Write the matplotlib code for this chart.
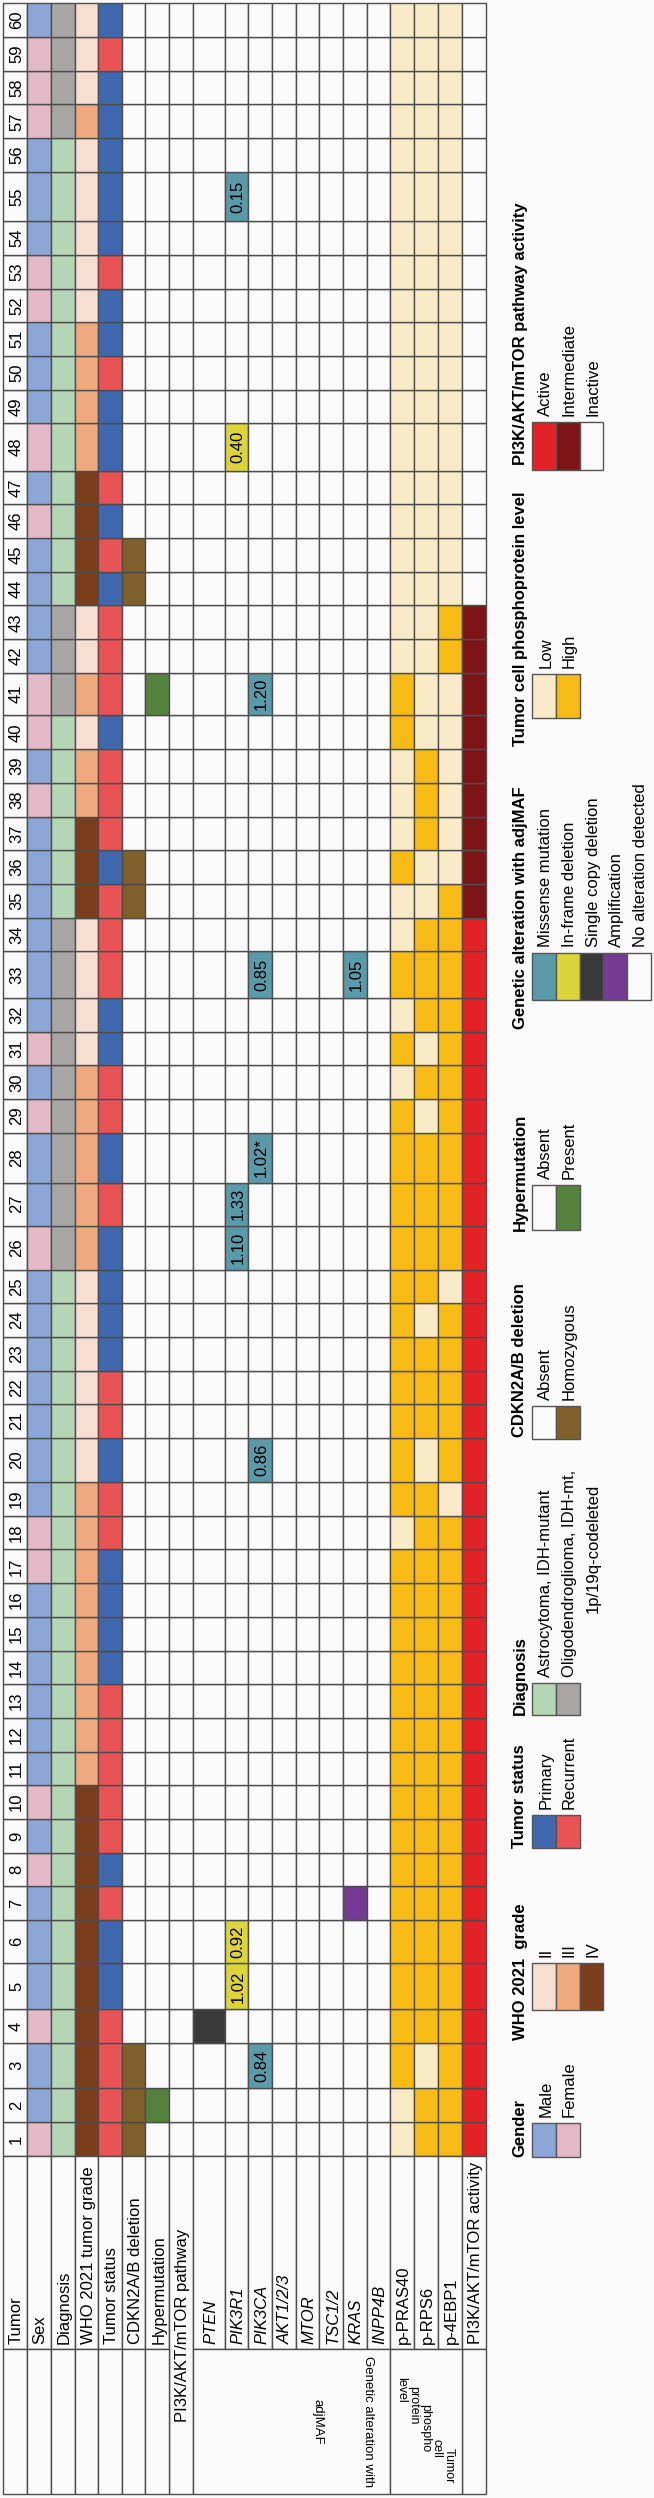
import numpy as np
import matplotlib.pyplot as plt
from matplotlib.patches import Rectangle

plt.rcParams['font.family'] = ['Liberation Sans', 'DejaVu Sans']

# ---- data (tumor 1..60) ----
tumors = np.arange(1, 61)
sex = list("FMMFMMMFMF" "MMMMMMFFMM" "MMMMMFMMFM" "FMMMMMMFMF" "FMMMMFMFMM" "MFFMMMFFFM")
diagnosis = list("A" * 25 + "O" * 9 + "A" * 6 + "O" * 3 + "A" * 13 + "O" * 4)
grade = ([4] * 10 + [3] * 9 + [2] * 6 + [3] * 5 + [2] * 4 + [4] * 3 + [3] * 2 + [2] + [3]
         + [2] * 2 + [4] * 4 + [3] * 4 + [2] * 5 + [3] + [2] * 3)
status = list("RRRRPPRPRR" "RRRPPPPRRP" "RRPPPPRPRR" "PPRRRPRRRP" "RRRPRPRPPR" "PPRPPPPPRP")
cdkn2a_homozygous = [1, 2, 3, 35, 36, 44, 45]
hypermutated = [2, 41]
# (tumor, gene, alteration type, adjMAF label)
alterations = [
    (4, "PTEN", "del", ""),
    (5, "PIK3R1", "inframe", "1.02"),
    (6, "PIK3R1", "inframe", "0.92"),
    (26, "PIK3R1", "missense", "1.10"),
    (27, "PIK3R1", "missense", "1.33"),
    (48, "PIK3R1", "inframe", "0.40"),
    (55, "PIK3R1", "missense", "0.15"),
    (3, "PIK3CA", "missense", "0.84"),
    (20, "PIK3CA", "missense", "0.86"),
    (28, "PIK3CA", "missense", "1.02*"),
    (33, "PIK3CA", "missense", "0.85"),
    (41, "PIK3CA", "missense", "1.20"),
    (7, "KRAS", "amp", ""),
    (33, "KRAS", "missense", "1.05"),
]
p_pras40 = list("LLHHHHHHHH" "HHHHHHHLHH" "HHHHHHHHHL" "HLHLLHLLLH" "HLLLLLLLLL" "LLLLLLLLLL")
p_rps6 = list("HHLHHHHHHH" "HHHHHHHHHL" "HHHLHHHHLH" "LHHHLLHHHL" "LLLLLLLLLL" "LLLLLLLLLL")
p_4ebp1 = list("HHHHHHHHHH" "HHHHHHHHLH" "HHHHLHHHHH" "HHHHHLLLLL" "LHHLLLLLLL" "LLLLLLLLLL")
activity = ["A"] * 34 + ["I"] * 9 + ["N"] * 17

row_labels = ["Tumor", "Sex", "Diagnosis", "WHO 2021 tumor grade", "Tumor status",
              "CDKN2A/B deletion", "Hypermutation", "PI3K/AKT/mTOR pathway", "PTEN", "PIK3R1",
              "PIK3CA", "AKT1/2/3", "MTOR", "TSC1/2", "KRAS", "INPP4B", "p-PRAS40", "p-RPS6",
              "p-4EBP1", "PI3K/AKT/mTOR activity"]
genes = ["PTEN", "PIK3R1", "PIK3CA", "AKT1/2/3", "MTOR", "TSC1/2", "KRAS", "INPP4B"]

# ---- colours ----
bg = "#fafafa"
grid = "#4d4d4d"
c_sex = {"M": "#8ca7d7", "F": "#e4b9c7"}
c_diag = {"A": "#b5d6b5", "O": "#a8a5a5"}
c_grade = {2: "#f6ded1", 3: "#eea97e", 4: "#7a3e1d"}
c_status = {"P": "#3f68ae", "R": "#e95356"}
c_cdkn = "#7f5f2a"
c_hyper = "#55823c"
c_alt = {"missense": "#5b9aa8", "inframe": "#dcd43a", "del": "#3a3939", "amp": "#763a94"}
c_phos = {"L": "#f9ebc8", "H": "#f6bb14"}
c_act = {"A": "#e32228", "I": "#7d1518", "N": bg}

# ---- layout (pixels) ----
col_edges = [3.3, 26.7, 50.7, 74.7, 98.3, 122, 145.3, 169, 192.7, 225.3, 248.3, 272,
             295.7, 319.3, 343, 366.7, 390, 414.3, 438.3, 461.7, 485.7]
tall_rows = {55: 49.3, 48: 47.3, 41: 42.6, 33: 46.7, 28: 49.7, 27: 43.3, 26: 43.7,
             20: 44, 6: 43.3, 5: 46, 3: 45.3}
row_h_default = 33.7
order = tumors[::-1]  # 60 at top
heights = np.array([tall_rows.get(t, row_h_default) for t in order])
tops = 3.3 + np.concatenate([[0], np.cumsum(heights)[:-1]])
row_top = dict(zip(order, tops))
row_hgt = dict(zip(order, heights))
table_bottom = tops[-1] + heights[-1]
label_split = 2349
label_bottom = 2494

fig = plt.figure(figsize=(6.54, 24.98), dpi=100, facecolor=bg)
ax = fig.add_axes([0, 0, 1, 1])
ax.set_xlim(0, 654)
ax.set_ylim(2498, 0)
ax.axis("off")
ax.set_facecolor(bg)

# build per-column colour lists in the tumor order
alt_map = {(t, g): (k, lab) for t, g, k, lab in alterations}
columns = [
    [bg] * 60,
    [c_sex[s] for s in sex],
    [c_diag[d] for d in diagnosis],
    [c_grade[g] for g in grade],
    [c_status[s] for s in status],
    [c_cdkn if t in cdkn2a_homozygous else bg for t in tumors],
    [c_hyper if t in hypermutated else bg for t in tumors],
    [bg] * 60,
]
for g in genes:
    columns.append([c_alt[alt_map[(t, g)][0]] if (t, g) in alt_map else bg for t in tumors])
columns.append([c_phos[v] for v in p_pras40])
columns.append([c_phos[v] for v in p_rps6])
columns.append([c_phos[v] for v in p_4ebp1])
columns.append([c_act[v] for v in activity])

for j, cols in enumerate(columns):
    x0, x1 = col_edges[j], col_edges[j + 1]
    ax.bar([x0] * 60, [row_hgt[t] for t in tumors], width=x1 - x0, align="edge",
           bottom=[row_top[t] for t in tumors], color=cols, edgecolor=grid, linewidth=1.0)

# tumor numbers
for t in tumors:
    ax.text((col_edges[0] + col_edges[1]) / 2 + 1.5, row_top[t] + row_hgt[t] / 2, str(t),
            rotation=90, ha="center", va="center", fontsize=12)

# adjMAF values
for t, g, k, lab in alterations:
    if lab:
        j = row_labels.index(g)
        ax.text((col_edges[j] + col_edges[j + 1]) / 2 + 1.5, row_top[t] + row_hgt[t] / 2, lab,
                rotation=90, ha="center", va="center", fontsize=12)

# label area cells
for j in range(20):
    x0, x1 = col_edges[j], col_edges[j + 1]
    if j == 7:
        ax.add_patch(Rectangle((x0, table_bottom), x1 - x0, label_bottom - table_bottom,
                               facecolor=bg, edgecolor=grid, lw=1.0))
    else:
        ax.add_patch(Rectangle((x0, table_bottom), x1 - x0, label_split - table_bottom,
                               facecolor=bg, edgecolor=grid, lw=1.0))
for j in list(range(7)) + [19]:
    x0, x1 = col_edges[j], col_edges[j + 1]
    ax.add_patch(Rectangle((x0, label_split), x1 - x0, label_bottom - label_split,
                           facecolor=bg, edgecolor=grid, lw=1.0))
for x0, x1 in [(col_edges[8], col_edges[16]), (col_edges[16], col_edges[19])]:
    ax.add_patch(Rectangle((x0, label_split), x1 - x0, label_bottom - label_split,
                           facecolor=bg, edgecolor=grid, lw=1.0))

for j, lab in enumerate(row_labels):
    xc = (col_edges[j] + col_edges[j + 1]) / 2 + 1.5
    style = "italic" if lab in genes else "normal"
    if j == 7:
        ax.text(xc, (table_bottom + label_bottom) / 2, lab, rotation=90, ha="center",
                va="center", fontsize=12)
    else:
        ax.text(xc, label_split - 5, lab, rotation=90, ha="center", va="bottom",
                fontsize=12, style=style)

# group labels (upside down)
ymid = (label_split + label_bottom) / 2
ax.text(368, ymid, "Genetic alteration with", rotation=270, ha="center", va="center",
        fontsize=9.5)
ax.text(318, ymid, "adjMAF", rotation=270, ha="center", va="center", fontsize=9.5)
for xx, yy, w in zip([449, 437, 425, 413, 401], [2466, 2448, 2428, 2405, 2390],
                     ["Tumor", "cell", "phospho", "protein", "level"]):
    ax.text(xx, yy, w, rotation=270, ha="center", va="center", fontsize=9)

# ---- legend ----
legend_items = [
    ("Gender", ["Male", "Female"], [c_sex["M"], c_sex["F"]]),
    ("WHO 2021  grade", ["II", "III", "IV"], [c_grade[2], c_grade[3], c_grade[4]]),
    ("Tumor status", ["Primary", "Recurrent"], [c_status["P"], c_status["R"]]),
    ("Diagnosis", ["Astrocytoma, IDH-mutant", "Oligodendroglioma, IDH-mt,"],
     [c_diag["A"], c_diag["O"]]),
    ("CDKN2A/B deletion", ["Absent", "Homozygous"], [bg, c_cdkn]),
    ("Hypermutation", ["Absent", "Present"], [bg, c_hyper]),
    ("Genetic alteration with adjMAF",
     ["Missense mutation", "In-frame deletion", "Single copy deletion", "Amplification",
      "No alteration detected"],
     [c_alt["missense"], c_alt["inframe"], c_alt["del"], c_alt["amp"], bg]),
    ("Tumor cell phosphoprotein level", ["Low", "High"], [c_phos["L"], c_phos["H"]]),
    ("PI3K/AKT/mTOR pathway activity", ["Active", "Intermediate", "Inactive"],
     [c_act["A"], c_act["I"], bg]),
]
# (title bottom, box top, box bottom)
legend_pos = [(2157, 2122.7, 2156.7), (2040, 1963.3, 2010), (1848, 1815, 1848),
              (1715, 1682.5, 1715), (1437, 1406, 1439), (1231, 1185, 1230),
              (1029, 953, 1000), (746, 674, 718), (465, 422.4, 470.2)]
box_x0, box_w, title_x = 532.3, 23.7, 520

for (title, labs, cols), (tb, bt, bb) in zip(legend_items, legend_pos):
    ax.text(title_x, tb, title, rotation=90, ha="center", va="bottom", fontsize=12,
            fontweight="bold")
    for k, (lab, c) in enumerate(zip(labs, cols)):
        x0 = box_x0 + k * box_w
        ax.add_patch(Rectangle((x0, bt), box_w, bb - bt, facecolor=c, edgecolor="#555555", lw=1.0))
        ax.text(x0 + box_w / 2 + 1.5, bt - 6, lab, rotation=90, ha="center", va="bottom",
                fontsize=12)
ax.text(box_x0 + 2.5 * box_w + 1.5, 1548, "1p/19q-codeleted", rotation=90, ha="center",
        va="center", fontsize=12)

fig.savefig("out.png", dpi=100, facecolor=bg)
